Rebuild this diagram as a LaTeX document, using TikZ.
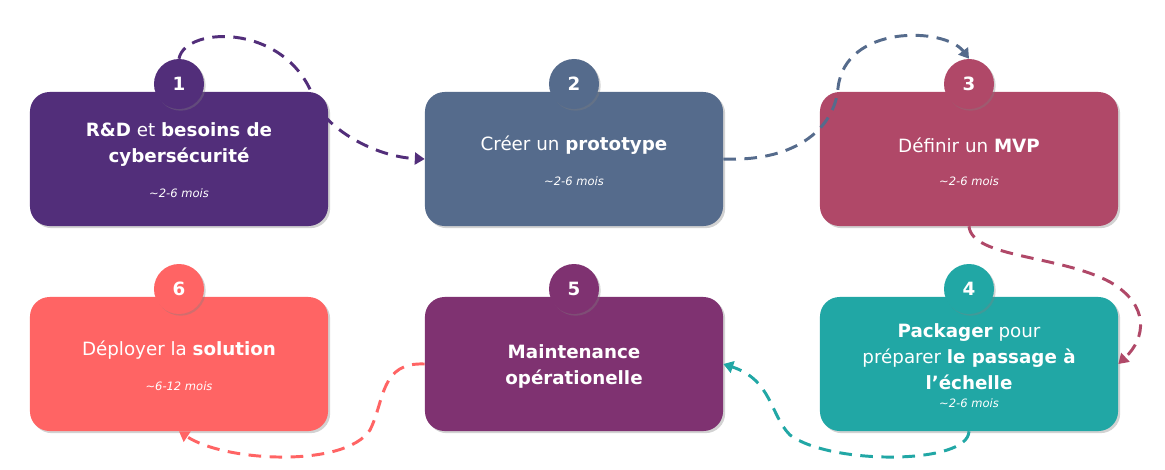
\documentclass[tikz,border=0pt]{standalone}
\usepackage{fontspec}
\setmainfont{DejaVu Sans}
\usetikzlibrary{arrows.meta,shadows}

\definecolor{moradoA}{HTML}{522E7A}
\definecolor{pizarra}{HTML}{556B8C}
\definecolor{frambuesa}{HTML}{B04868}
\definecolor{turquesa}{HTML}{21A7A5}
\definecolor{moradoB}{HTML}{7F3271}
\definecolor{coral}{HTML}{FF6464}

\begin{document}
\begin{tikzpicture}[x=0.025cm,y=-0.025cm,
    caja/.style={fill=#1, rounded corners=14pt, minimum width=7.45cm, minimum height=3.35cm,
      drop shadow={shadow xshift=1.5pt,shadow yshift=-1.5pt,opacity=0.35}},
    numero/.style={circle, fill=#1, minimum size=1.25cm, inner sep=0pt, text=white,
      font=\fontsize{13}{15}\selectfont\bfseries,
      drop shadow={shadow xshift=1.2pt,shadow yshift=-1.2pt,opacity=0.35}},
    titulo/.style={text=white, align=center, font=\fontsize{13}{18.5}\selectfont},
    duracion/.style={text=white, font=\fontsize{8.2}{10}\selectfont\itshape},
    flecha/.style={draw=#1, line width=2.1pt, dash pattern=on 9pt off 6pt,
      -{Triangle[length=7pt,width=8.5pt]}}]

    % Fija el marco de la figura.
    \useasboundingbox[fill=white] (0,0) rectangle (1165,469);

    % Dibuja las cajas de las etapas.
    \node[caja=moradoA] (b1) at (179,159) {};
    \node[caja=pizarra] (b2) at (574,159) {};
    \node[caja=frambuesa] (b3) at (969,159) {};
    \node[caja=turquesa] (b4) at (969,364) {};
    \node[caja=moradoB] (b5) at (574,364) {};
    \node[caja=coral] (b6) at (179,364) {};

    % Dibuja los numeros de las etapas.
    \node[numero=moradoA] (n1) at (179,84) {1};
    \node[numero=pizarra] (n2) at (574,84) {2};
    \node[numero=frambuesa] (n3) at (969,84) {3};
    \node[numero=turquesa] (n4) at (969,289) {4};
    \node[numero=moradoB] (n5) at (574,289) {5};
    \node[numero=coral] (n6) at (179,289) {6};

    % Escribe los titulos y las duraciones.
    \node[titulo] (t1) at (179,145) {\textbf{R\&D} et \textbf{besoins de}\\\textbf{cybersécurité}};
    \node[duracion] (m1) at (179,193) {\textasciitilde2-6 mois};
    \node[titulo] (t2) at (574,145) {Créer un \textbf{prototype}};
    \node[duracion] (m2) at (574,181) {\textasciitilde2-6 mois};
    \node[titulo] (t3) at (969,145) {Définir un \textbf{MVP}};
    \node[duracion] (m3) at (969,181) {\textasciitilde2-6 mois};
    \node[titulo] (t4) at (969,357) {\textbf{Packager} pour\\préparer \textbf{le passage à}\\\textbf{l’échelle}};
    \node[duracion] (m4) at (969,403) {\textasciitilde2-6 mois};
    \node[titulo] (t5) at (574,366) {\textbf{Maintenance}\\\textbf{opérationelle}};
    \node[titulo] (t6) at (179,350) {Déployer la \textbf{solution}};
    \node[duracion] (m6) at (179,386) {\textasciitilde6-12 mois};

    % Dibuja las flechas entre etapas.
    \draw[flecha=moradoA] (n1.north) .. controls (185,25) and (292,22) .. (316,105)
      .. controls (335,135) and (380,157) .. (b2.west);
    \draw[flecha=pizarra] (b2.east) .. controls (800,162) and (835,125) .. (838,88)
      .. controls (845,24) and (945,27) .. (n3.north);
    \draw[flecha=frambuesa] (b3.south) .. controls (972,258) and (1060,255) .. (1110,282)
      .. controls (1150,305) and (1146,338) .. (b4.east);
    \draw[flecha=turquesa] (b4.south) .. controls (968,465) and (830,465) .. (790,435)
      .. controls (770,415) and (772,380) .. (b5.east);
    \draw[flecha=coral] (b5.west) .. controls (380,362) and (385,400) .. (370,430)
      .. controls (345,468) and (225,462) .. (b6.south);
\end{tikzpicture}
\end{document}
